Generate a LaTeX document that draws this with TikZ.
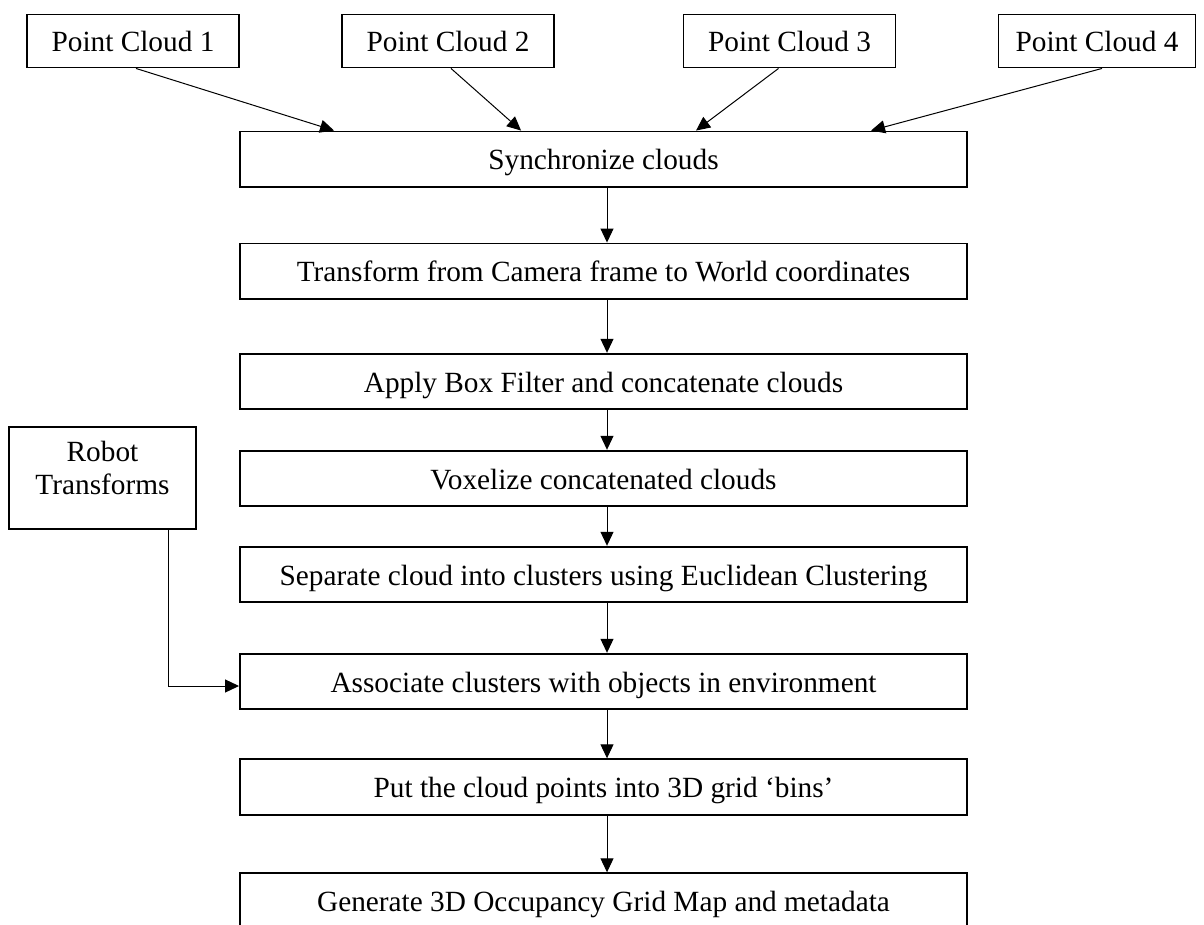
\documentclass[tikz,border=0pt]{standalone}
\usepackage{fontspec}
\setmainfont{Liberation Serif}
\usetikzlibrary{arrows.meta,calc}
\begin{document}
\begin{tikzpicture}[x=0.5pt,y=-0.5pt,
  every node/.style={font=\fontsize{14.65}{17}\selectfont},
  boxline/.style={draw, line width=0.95pt, inner sep=0pt},
  stepbox/.style={boxline, text height=12.5pt, text depth=2pt,
    minimum width=363.5pt, minimum height=27.75pt},
  srcbox/.style={boxline, text height=12.5pt, text depth=2pt,
    minimum width=106pt, minimum height=26.5pt},
  flow/.style={-{Triangle[length=7pt,width=6.5pt]}, line width=0.5pt}]
\path[use as bounding box] (0,0) rectangle (1204,925);
\clip (0,0) rectangle (1204,925);
\fill[white] (0,0) rectangle (1204,925);

% input clouds
\node[srcbox] (pc1) at (133,41) {Point Cloud 1};
\node[srcbox] (pc2) at (448,41) {Point Cloud 2};
\node[srcbox] (pc3) at (789.5,41) {Point Cloud 3};
\node[srcbox, minimum width=98.5pt] (pc4) at (1097,41) {Point Cloud 4};

% processing chain
\node[stepbox] (sync)  at (603.5,159.25) {Synchronize clouds};
\node[stepbox] (tf)    at (603.5,271.25) {Transform from Camera frame to World coordinates};
\node[stepbox] (box)   at (603.5,381.5)  {Apply Box Filter and concatenate clouds};
\node[stepbox] (vox)   at (603.5,478.5)  {Voxelize concatenated clouds};
\node[stepbox] (sep)   at (603.5,574.5)  {Separate cloud into clusters using Euclidean Clustering};
\node[stepbox] (assoc) at (603.5,681.5)  {Associate clusters with objects in environment};
\node[stepbox] (bins)  at (603.5,787)    {Put the cloud points into 3D grid `bins'};
\node[stepbox] (grid)  at (603.5,901)    {Generate 3D Occupancy Grid Map and metadata};

% robot pose input
\node[boxline, minimum width=93.5pt, minimum height=51pt] (robot) at (102.5,478)
  {\raisebox{3.5pt}[\height][\depth]{\begin{tabular}{@{}c@{}}Robot\\[-0.6pt]Transforms\end{tabular}}};

% cloud inputs into synchronisation
\coordinate (in1) at ($(sync.north west)+(95,0)$);
\coordinate (in2) at ($(sync.north west)+(282,0)$);
\coordinate (in3) at ($(sync.north west)+(457,0)$);
\coordinate (in4) at ($(sync.north west)+(632,0)$);
\draw[flow] ($(pc1.south)+(3,0)$) -- (in1);
\draw[flow] ($(pc2.south)+(3,0)$) -- (in2);
\draw[flow] ($(pc3.south)+(-11,0)$) -- (in3);
\draw[flow] ($(pc4.south)+(5,0)$) -- (in4);

% chain arrows
\foreach \a/\b in {sync/tf, tf/box, box/vox, vox/sep, sep/assoc, assoc/bins, bins/grid}
  \draw[flow] ($(\a.south)+(3.5,0)$) -- ($(\b.north)+(3.5,0)$);

% robot transforms into association
\draw[flow] ($(robot.south east)+(-28,0)$) |- ($(assoc.west)+(0,4.5)$);
\end{tikzpicture}
\end{document}
